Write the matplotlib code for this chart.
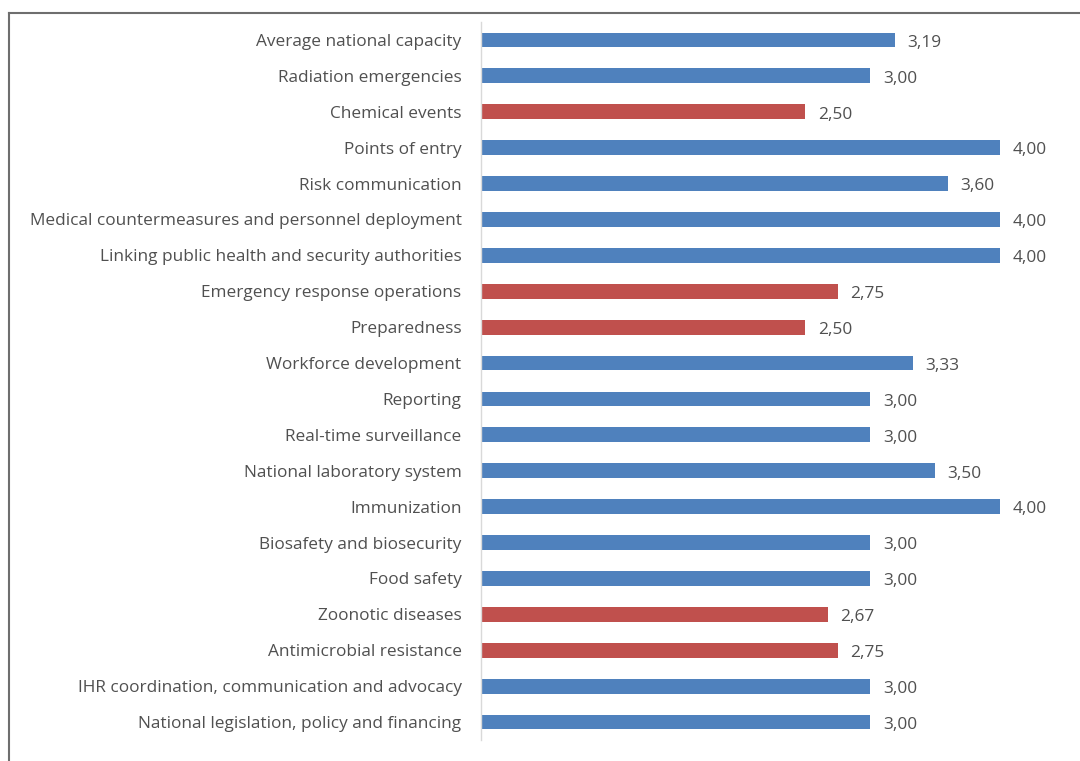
import matplotlib.pyplot as plt
from matplotlib.lines import Line2D

# capacidades de cima para baixo
categorias = [
    'Average national capacity',
    'Radiation emergencies',
    'Chemical events',
    'Points of entry',
    'Risk communication',
    'Medical countermeasures and personnel deployment',
    'Linking public health and security authorities',
    'Emergency response operations',
    'Preparedness',
    'Workforce development',
    'Reporting',
    'Real-time surveillance',
    'National laboratory system',
    'Immunization',
    'Biosafety and biosecurity',
    'Food safety',
    'Zoonotic diseases',
    'Antimicrobial resistance',
    'IHR coordination, communication and advocacy',
    'National legislation, policy and financing',
]
valores = [3.19, 3.00, 2.50, 4.00, 3.60, 4.00, 4.00, 2.75, 2.50, 3.33,
           3.00, 3.00, 3.50, 4.00, 3.00, 3.00, 2.67, 2.75, 3.00, 3.00]

AZUL = '#4F81BD'
VERMELHO = '#C0504D'
TEXTO = '#505050'
limite = 3.0

plt.rcParams['font.family'] = ['Open Sans', 'DejaVu Sans']

fig = plt.figure(figsize=(10.8, 7.61), dpi=100)
ax = fig.add_axes([481 / 1080, 1 - 740 / 761, 584 / 1080, 718 / 761])

n = len(categorias)
pos = list(range(n))[::-1]
cores = [VERMELHO if v < limite else AZUL for v in valores]
ax.barh(pos, valores, height=0.41, color=cores)

for y, v in zip(pos, valores):
    ax.annotate(f'{v:.2f}'.replace('.', ','), xy=(v, y), xytext=(9, -2),
                textcoords='offset points', ha='left', va='center',
                fontsize=12.4, color=TEXTO)

ax.set_xlim(0, 4.5)
ax.set_ylim(-0.5, n - 0.5)
ax.set_yticks(pos)
ax.set_yticklabels(categorias, fontsize=12.4, color=TEXTO)
ax.tick_params(axis='y', length=0, pad=14)
ax.set_xticks([])
for lado in ['top', 'right', 'bottom']:
    ax.spines[lado].set_visible(False)
ax.spines['left'].set_color('#D9D9D9')
ax.spines['left'].set_linewidth(1.0)

# moldura parcial em volta do gráfico
x0 = 9 / 1080
y0 = 1 - 13 / 761
fig.add_artist(Line2D([x0, x0], [-0.01, y0], transform=fig.transFigure,
                      color='#6E6E6E', lw=1.5))
fig.add_artist(Line2D([x0, 1.01], [y0, y0], transform=fig.transFigure,
                      color='#6E6E6E', lw=1.5))

fig.savefig('out.png', dpi=100)
